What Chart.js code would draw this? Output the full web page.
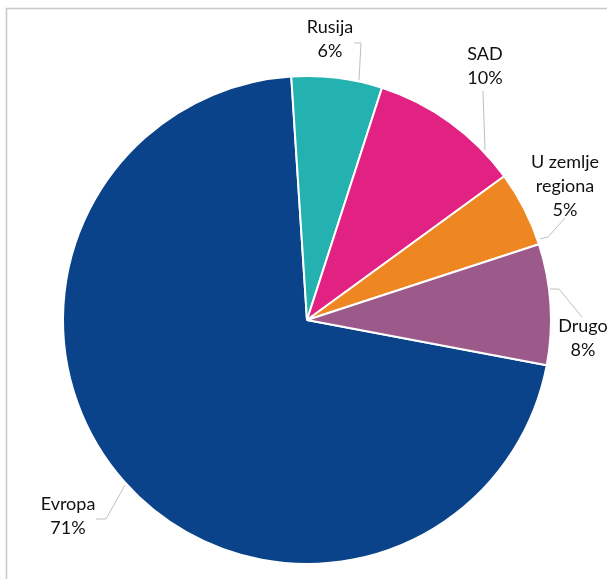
<!DOCTYPE html>
<html>
<head>
<meta charset="utf-8">
<script src="https://cdn.jsdelivr.net/npm/chart.js@4"></script>
<style>
  html, body { margin: 0; padding: 0; background: #fff; }
  #wrap { width: 607px; height: 579px; position: relative; }
</style>
</head>
<body>
<div id="wrap"><canvas id="pie"></canvas></div>
<script>
// podaci
const categories = ['Evropa', 'Rusija', 'SAD', 'U zemlje regiona', 'Drugo'];
const shares = [71, 6, 10, 5, 8];
const colors = ['#0B438B', '#23B2B0', '#E22282', '#EE8622', '#9C5A8B'];

// položaj oznaka i linija (pikseli)
const labelSpots = [
  { lines: ['Evropa', '71%'], x: 68, y: 510, lead: [[96, 519], [106, 519], [125, 485]] },
  { lines: ['Rusija', '6%'], x: 330, y: 33, lead: [[354, 43], [361, 43], [359, 80]] },
  { lines: ['SAD', '10%'], x: 485, y: 60, lead: [[483, 91], [485, 150]] },
  { lines: ['U zemlje', 'regiona', '5%'], x: 565, y: 168, lead: [[565, 218], [548, 237], [540, 239]] },
  { lines: ['Drugo', '8%'], x: 583, y: 332, lead: [[550, 289], [559, 289], [582, 317]] }
];

const labelPlugin = {
  id: 'labelPlugin',
  afterDraw(chart) {
    const ctx = chart.ctx;
    ctx.save();
    // okvir
    ctx.strokeStyle = '#C8C8C8';
    ctx.lineWidth = 1.5;
    ctx.beginPath();
    ctx.moveTo(6.5, 579);
    ctx.lineTo(6.5, 8.5);
    ctx.lineTo(607, 8.5);
    ctx.stroke();

    ctx.strokeStyle = '#BFBFBF';
    ctx.lineWidth = 1;
    labelSpots.forEach(spot => {
      ctx.beginPath();
      spot.lead.forEach((p, i) => {
        if (i === 0) ctx.moveTo(p[0], p[1]);
        else ctx.lineTo(p[0], p[1]);
      });
      ctx.stroke();
    });

    ctx.fillStyle = '#111111';
    ctx.font = '18px Lato, "Open Sans", sans-serif';
    ctx.textAlign = 'center';
    ctx.textBaseline = 'alphabetic';
    labelSpots.forEach(spot => {
      spot.lines.forEach((t, i) => {
        ctx.fillText(t, spot.x, spot.y + i * 24);
      });
    });
    ctx.restore();
  }
};

new Chart(document.getElementById('pie'), {
  type: 'pie',
  data: {
    labels: categories,
    datasets: [{
      data: shares,
      backgroundColor: colors,
      borderColor: '#FFFFFF',
      borderWidth: 2
    }]
  },
  options: {
    responsive: true,
    maintainAspectRatio: false,
    animation: false,
    rotation: -3.7 - 71 * 3.6,
    layout: { padding: { left: 62, right: 55, top: 75, bottom: 14 } },
    plugins: {
      legend: { display: false },
      tooltip: { enabled: false }
    }
  },
  plugins: [labelPlugin]
});
</script>
</body>
</html>
